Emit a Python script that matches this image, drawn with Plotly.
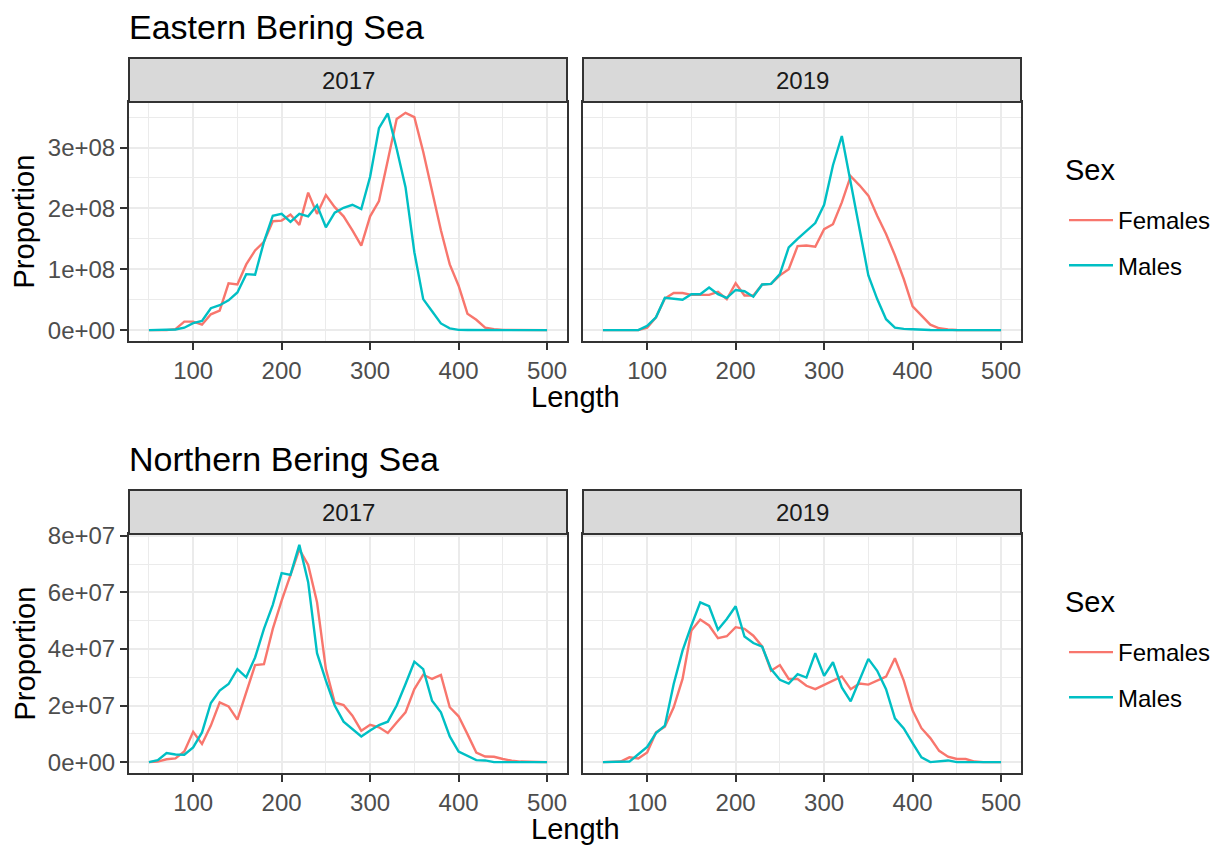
import plotly.graph_objects as go

# target canvas (screenshot) and the page's 8px body margin
W, H = 1226, 847
BODY = 8
FW, FH = W - BODY, H - BODY

# ---------------- data ----------------
lengths = [50, 60, 70, 80, 90, 100, 110, 120, 130, 140, 150, 160, 170, 180, 190,
           200, 210, 220, 230, 240, 250, 260, 270, 280, 290, 300, 310, 320, 330,
           340, 350, 360, 370, 380, 390, 400, 410, 420, 430, 440, 450, 460, 470,
           480, 490, 500]

years = ["2017", "2019"]
sexes = ["Females", "Males"]
regions = ["Eastern Bering Sea", "Northern Bering Sea"]

ebs_2017_females = [0, 0, 0, 1.5e6, 14e6, 14e6, 9e6, 26e6, 32e6, 77e6, 75e6, 108e6, 131e6,
                    145e6, 179e6, 180e6, 190e6, 173e6, 226e6, 191e6, 222e6, 202e6, 187e6,
                    164e6, 139e6, 187e6, 212e6, 279e6, 347e6, 357e6, 350e6, 293e6, 230e6,
                    164e6, 108e6, 73e6, 27e6, 17e6, 4e6, 1.5e6, 0.5e6, 0.3e6, 0.1e6, 0, 0, 0]
ebs_2017_males = [0, 0, 0, 1e6, 4e6, 11.5e6, 15e6, 36e6, 41e6, 49e6, 62e6, 92e6, 91e6,
                  145e6, 188e6, 191e6, 178e6, 191e6, 187e6, 205e6, 169e6, 193e6, 201e6,
                  206e6, 199e6, 252e6, 332e6, 356e6, 298e6, 235e6, 128e6, 51e6, 31e6,
                  11e6, 3e6, 0.5e6, 0.2e6, 0.1e6, 0, 0, 0, 0, 0, 0, 0, 0]
ebs_2019_females = [0, 0, 0, 0, 0, 4e6, 21e6, 52e6, 61e6, 61e6, 58e6, 58e6, 58e6,
                    63e6, 51e6, 77e6, 57e6, 57e6, 75e6, 76e6, 90e6, 100e6, 138e6,
                    139e6, 137e6, 166e6, 174e6, 210e6, 253e6, 238e6, 221e6, 188e6, 158e6,
                    123e6, 84e6, 39e6, 24e6, 9e6, 3e6, 1e6, 0.3e6, 0.1e6, 0, 0, 0, 0]
ebs_2019_males = [0, 0, 0, 0, 0, 7e6, 21e6, 53e6, 51e6, 50e6, 59e6, 59e6, 70e6,
                  59e6, 53e6, 66e6, 64e6, 55e6, 75e6, 76e6, 92e6, 136e6, 150e6,
                  163e6, 176e6, 206e6, 271e6, 319e6, 243e6, 165e6, 90e6, 51e6, 18e6,
                  4e6, 2e6, 1.5e6, 0.5e6, 0.2e6, 0, 0, 0, 0, 0, 0, 0, 0]

nbs_2017_females = [0, 0.2e6, 1.0e6, 1.3e6, 3.8e6, 10.7e6, 6.4e6, 12.9e6, 21.1e6, 19.7e6,
                    15.0e6, 24.7e6, 34.3e6, 34.6e6, 47.1e6, 57.1e6, 66.0e6, 75.2e6, 69.7e6,
                    56.5e6, 32.9e6, 21.1e6, 20.2e6, 16.4e6, 11.1e6, 13.2e6, 12.3e6, 10.3e6,
                    14.0e6, 17.6e6, 25.8e6, 30.9e6, 29.4e6, 30.8e6, 19.4e6, 16.2e6, 9.9e6,
                    3.4e6, 2.0e6, 1.9e6, 1.1e6, 0.5e6, 0.2e6, 0.1e6, 0, 0]
nbs_2017_males = [0, 0.7e6, 3.2e6, 2.7e6, 2.6e6, 5.2e6, 10.5e6, 20.9e6, 25.3e6, 27.6e6,
                  32.9e6, 30.0e6, 37.0e6, 47.1e6, 55.6e6, 66.8e6, 66.2e6, 76.8e6, 63.6e6,
                  38.5e6, 28.8e6, 20.0e6, 14.3e6, 11.7e6, 9.1e6, 11.2e6, 13.1e6, 14.3e6,
                  20.0e6, 27.6e6, 35.5e6, 32.9e6, 21.7e6, 17.6e6, 9.1e6, 3.7e6, 2.2e6,
                  0.7e6, 0.6e6, 0, 0, 0, 0, 0, 0, 0]
nbs_2019_females = [0, 0.2e6, 0.2e6, 1.7e6, 1.3e6, 3.4e6, 10.5e6, 12.5e6, 19.4e6, 29.4e6,
                    46.5e6, 50.4e6, 48.3e6, 43.8e6, 44.5e6, 47.7e6, 47.1e6, 44.7e6, 40.9e6,
                    32.3e6, 34.3e6, 29.4e6, 29.4e6, 27.0e6, 25.8e6, 27.3e6, 28.8e6, 30.3e6,
                    25.8e6, 27.8e6, 27.4e6, 28.8e6, 30.2e6, 36.7e6, 28.8e6, 18.2e6, 12.0e6,
                    8.5e6, 4.0e6, 1.9e6, 1.1e6, 1.1e6, 0.2e6, 0, 0, 0]
nbs_2019_males = [0, 0, 0, 0.2e6, 2.8e6, 5.4e6, 10.3e6, 12.9e6, 27.6e6, 39.4e6,
                  48.3e6, 56.5e6, 55.1e6, 46.8e6, 50.6e6, 55.1e6, 44.4e6, 42.1e6, 40.8e6,
                  32.9e6, 29.1e6, 27.8e6, 31.1e6, 29.9e6, 38.5e6, 30.5e6, 35.3e6, 26.4e6,
                  21.5e6, 28.8e6, 36.5e6, 32.3e6, 25.8e6, 15.5e6, 11.9e6, 6.7e6, 1.7e6,
                  0, 0.2e6, 0.6e6, 0, 0, 0, 0, 0, 0]

x_tickvals = [100, 200, 300, 400, 500]
ebs_y_tickvals = [0, 1e8, 2e8, 3e8]
ebs_y_ticktext = ["0e+00", "1e+08", "2e+08", "3e+08"]
nbs_y_tickvals = [0, 2e7, 4e7, 6e7, 8e7]
nbs_y_ticktext = ["0e+00", "2e+07", "4e+07", "6e+07", "8e+07"]

# ---------------- style / layout ----------------
COLORS = {"Females": "#F8766D", "Males": "#00BFC4"}
FONT = "Liberation Sans, Arial, sans-serif"
DARK = "#333333"


def px_x(px):
    """screen pixel (target) -> paper fraction"""
    return (px - BODY) / FW


def px_y(py):
    return 1 - (py - BODY) / FH


panel_x = [(129, 567), (583, 1021)]
row_offset = 432
strip_top, panel_top, panel_bot = 58, 102, 341

fig = go.Figure()

row_data = [
    {"2017": {"Females": ebs_2017_females, "Males": ebs_2017_males},
     "2019": {"Females": ebs_2019_females, "Males": ebs_2019_males}},
    {"2017": {"Females": nbs_2017_females, "Males": nbs_2017_males},
     "2019": {"Females": nbs_2019_females, "Males": nbs_2019_males}},
]
row_ticks = [(ebs_y_tickvals, ebs_y_ticktext), (nbs_y_tickvals, nbs_y_ticktext)]
row_minor = [0.5e8, 1e7]

xmin, xmax = min(lengths), max(lengths)
xpad = 0.05 * (xmax - xmin)

shapes = []
annotations = []
layout_axes = {}

for r in range(2):
    off = r * row_offset
    allv = [v for yr in years for s in sexes for v in row_data[r][yr][s]]
    ymin, ymax = min(allv), max(allv)
    ypad = 0.05 * (ymax - ymin)
    yrange = [ymin - ypad, ymax + ypad]
    for c in range(2):
        idx = r * 2 + c + 1
        xa = "x" if idx == 1 else f"x{idx}"
        ya = "y" if idx == 1 else f"y{idx}"
        xkey = "xaxis" if idx == 1 else f"xaxis{idx}"
        ykey = "yaxis" if idx == 1 else f"yaxis{idx}"
        yr = years[c]
        for s in sexes:
            fig.add_trace(go.Scatter(
                x=lengths, y=row_data[r][yr][s], mode="lines", name=s,
                line=dict(color=COLORS[s], width=2.4),
                xaxis=xa, yaxis=ya,
                legend="legend" if r == 0 else "legend2",
                legendgroup=f"{s}{r}",
                showlegend=(c == 0),
            ))
        x0, x1 = panel_x[c]
        layout_axes[xkey] = dict(
            domain=[px_x(x0), px_x(x1)], anchor=ya, range=[xmin - xpad, xmax + xpad],
            tickvals=x_tickvals, ticks="outside", ticklen=7, tickwidth=2, tickcolor=DARK,
            tickfont=dict(family=FONT, size=24, color="#4D4D4D"),
            showgrid=True, gridcolor="#EBEBEB", gridwidth=2,
            minor=dict(showgrid=True, gridcolor="#EBEBEB", gridwidth=1.1, dtick=50, tick0=0),
            showline=True, linecolor=DARK, linewidth=2, mirror=True, zeroline=False,
            automargin=False,
        )
        tv, tt = row_ticks[r]
        layout_axes[ykey] = dict(
            domain=[px_y(panel_bot + off), px_y(panel_top + off)], anchor=xa, range=yrange,
            tickvals=tv, ticktext=tt,
            ticks="outside" if c == 0 else "", ticklen=7, tickwidth=2, tickcolor=DARK,
            showticklabels=(c == 0),
            tickfont=dict(family=FONT, size=24, color="#4D4D4D"),
            showgrid=True, gridcolor="#EBEBEB", gridwidth=2,
            minor=dict(showgrid=True, gridcolor="#EBEBEB", gridwidth=1.1,
                       dtick=row_minor[r], tick0=0),
            showline=True, linecolor=DARK, linewidth=2, mirror=True, zeroline=False,
            automargin=False,
        )
        # facet strip
        shapes.append(dict(type="rect", xref="paper", yref="paper",
                           x0=px_x(x0), x1=px_x(x1), y0=px_y(panel_top + off), y1=px_y(strip_top + off),
                           fillcolor="#D9D9D9", line=dict(color=DARK, width=2), layer="above"))
        annotations.append(dict(text=yr, xref="paper", yref="paper",
                                x=px_x((x0 + x1) / 2), y=px_y((strip_top + panel_top) / 2 + off),
                                showarrow=False, xanchor="center", yanchor="middle",
                                font=dict(family=FONT, size=24, color="#1A1A1A")))
    # row title
    annotations.append(dict(text=regions[r], xref="paper", yref="paper",
                            x=px_x(127), y=px_y(27 + off), showarrow=False,
                            xanchor="left", yanchor="middle",
                            font=dict(family=FONT, size=34, color="black")))
    # axis titles
    annotations.append(dict(text="Length", xref="paper", yref="paper",
                            x=px_x(575), y=px_y(397 + off), showarrow=False,
                            xanchor="center", yanchor="middle",
                            font=dict(family=FONT, size=29, color="black")))
    annotations.append(dict(text="Proportion", xref="paper", yref="paper",
                            x=px_x(24), y=px_y((panel_top + panel_bot) / 2 + off), showarrow=False,
                            textangle=-90, xanchor="center", yanchor="middle",
                            font=dict(family=FONT, size=29, color="black")))
    # legend title
    annotations.append(dict(text="Sex", xref="paper", yref="paper",
                            x=px_x(1063), y=px_y(170 + off), showarrow=False,
                            xanchor="left", yanchor="middle",
                            font=dict(family=FONT, size=29, color="black")))

legend_common = dict(
    xanchor="left", yanchor="top", bgcolor="rgba(0,0,0,0)",
    font=dict(family=FONT, size=24, color="black"),
    itemwidth=44, tracegroupgap=11, traceorder="grouped",
)

fig.update_layout(
    width=FW, height=FH, autosize=False,
    margin=dict(l=0, r=0, t=0, b=0, pad=0, autoexpand=False),
    paper_bgcolor="white", plot_bgcolor="white",
    shapes=shapes, annotations=annotations,
    legend=dict(x=px_x(1064), y=px_y(198), **legend_common),
    legend2=dict(x=px_x(1064), y=px_y(198 + row_offset), **legend_common),
    **layout_axes,
)

fig.write_html("out.html")
